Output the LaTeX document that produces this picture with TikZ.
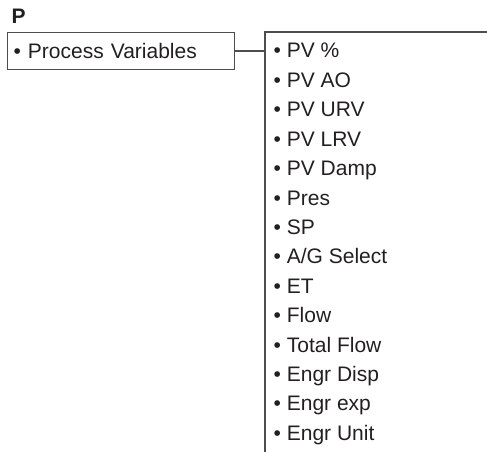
\documentclass[tikz,border=0pt]{standalone}
\usepackage{fontspec}
\setmainfont{Liberation Sans}
\usepackage{xcolor}
\usetikzlibrary{positioning,calc}
\definecolor{menuline}{HTML}{4D4D4D}
\definecolor{menutext}{HTML}{231F20}

\begin{document}
\begin{tikzpicture}[x=1pt, y=1pt, every node/.style={font=\fontsize{21}{25}\selectfont, text=menutext},
    menubox/.style={draw=menuline, line width=1.2pt, anchor=north west, minimum width=227pt, minimum height=37pt, inner xsep=6pt, inner ysep=0pt, text width=215pt, align=left},
    menuitem/.style={anchor=base west, inner sep=0pt}]
        \useasboundingbox (0,0) rectangle (487,-452);
        % title and top level entry
        \node[anchor=base west, inner sep=0pt, font=\fontsize{21}{25}\selectfont\bfseries] (title) at (11.5,-24) {P};
        \node[menubox] (pv) at (7,-32) {\textbullet\ Process Variables};
        % open bracket holding the sub entries
        \coordinate (brk) at (265,-32);
        \coordinate (brkend) at (487,-32);
        \coordinate (brkbot) at (265,-452);
        \draw[menuline, line width=1.2pt] (brkend) -- (brk) -- (brkbot);
        \draw[menuline, line width=1.2pt] (pv.east) -- (pv.east -| brk);
        \foreach \t [count=\k] in {PV \%, PV AO, PV URV, PV LRV, PV Damp, Pres, SP, A/G Select, ET, Flow, Total Flow, Engr Disp, Engr exp, Engr Unit}{
            \node[menuitem] (item\k) at (273.5,{-58-(\k-1)*29.4}) {\textbullet\ \t};
        }
      \end{tikzpicture}
\end{document}
